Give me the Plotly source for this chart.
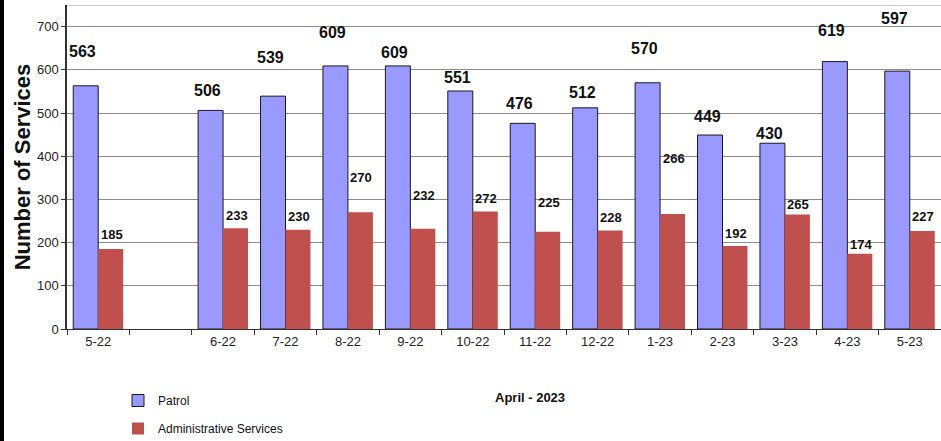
import plotly.graph_objects as go

categories = ["5-22", " ", "6-22", "7-22", "8-22", "9-22", "10-22", "11-22",
              "12-22", "1-23", "2-23", "3-23", "4-23", "5-23"]
patrol = [563, None, 506, 539, 609, 609, 551, 476, 512, 570, 449, 430, 619, 597]
admin = [185, None, 233, 230, 270, 232, 272, 225, 228, 266, 192, 265, 174, 227]

# label offsets above bar tops (pixels), as placed in the original chart
patrol_shift = [34, 0, 20, 39, 33, 13, 13, 20, 15, 34, 19, 10, 31, 53]
admin_shift = [15, 0, 13, 13, 35, 33, 13, 29, 13, 56, 13, 10, 9, 14]

FONT = "Liberation Sans, Arial, sans-serif"
W, H = 941, 441
L, R, T, B = 67, 0, 5, 112
pw = W - L - R
ph = H - T - B

fig = go.Figure()
fig.add_trace(go.Bar(x=categories, y=patrol, name="Patrol",
                     marker=dict(color="#9999FF", line=dict(color="#1a1a1a", width=1)),
                     legendgroup="a"))
fig.add_trace(go.Bar(x=categories, y=admin, name="Administrative Services",
                     marker=dict(color="#C0504D", line=dict(color="#C0504D", width=0)),
                     legendgroup="b"))

for i, c in enumerate(categories):
    if patrol[i] is not None:
        fig.add_annotation(x=c, y=patrol[i], text="<b>%d</b>" % patrol[i], showarrow=False,
                           xref="x", yref="y", yanchor="middle", yshift=patrol_shift[i],
                           xshift=-12.5 - 3,
                           font=dict(family=FONT, size=16, color="#111"))
    if admin[i] is not None:
        fig.add_annotation(x=c, y=admin[i], text="<b>%d</b>" % admin[i], showarrow=False,
                           xref="x", yref="y", yanchor="middle", yshift=admin_shift[i],
                           xshift=12.5 + 1,
                           font=dict(family=FONT, size=13, color="#111"))

fig.add_annotation(text="<b>April - 2023</b>", x=(530 - L) / pw, y=(329 - 397) / ph,
                   xref="paper", yref="paper", showarrow=False, yanchor="middle",
                   font=dict(family=FONT, size=13, color="#111"))

# top frame line and black left strip
fig.add_shape(type="line", xref="paper", yref="y", x0=0, x1=1, y0=750, y1=750,
              line=dict(color="#999", width=1))
fig.add_shape(type="rect", xref="paper", yref="paper", x0=-L / pw, x1=-(L - 4) / pw,
              y0=-B / ph, y1=1 + T / ph,
              fillcolor="black", line=dict(width=0))

fig.update_layout(
    width=W, height=H,
    margin=dict(l=L, r=R, t=T, b=B, autoexpand=False),
    paper_bgcolor="white", plot_bgcolor="white",
    barmode="group", bargap=0.2, bargroupgap=0,
    font=dict(family=FONT, size=13, color="#222"),
    showlegend=True,
    legend=dict(x=(118 - L) / pw, y=(329 - 386) / ph, xanchor="left", yanchor="top",
                orientation="v", traceorder="grouped", tracegroupgap=9,
                font=dict(family=FONT, size=12, color="#111"), bgcolor="rgba(0,0,0,0)"),
    xaxis=dict(type="category", tickson="boundaries", ticks="outside", ticklen=5,
               tickcolor="#333", showline=True, linecolor="#333", linewidth=1,
               tickfont=dict(family=FONT, size=13, color="#222"), showgrid=False,
               automargin=False),
    yaxis=dict(range=[0, 750], tickvals=[0, 100, 200, 300, 400, 500, 600, 700],
               showgrid=True, gridcolor="#8c8c8c", gridwidth=1,
               showline=True, linecolor="#333", linewidth=1.5,
               ticks="outside", ticklen=4, tickcolor="#333",
               tickfont=dict(family=FONT, size=13, color="#222"),
               title=dict(text="<b>Number of Services</b>", standoff=0,
                          font=dict(family=FONT, size=22, color="#111")),
               zeroline=False, automargin=False),
)

fig.write_html("out.html", config={"displayModeBar": False},
               post_script="document.body.style.margin='0';document.body.style.overflow='hidden';")
